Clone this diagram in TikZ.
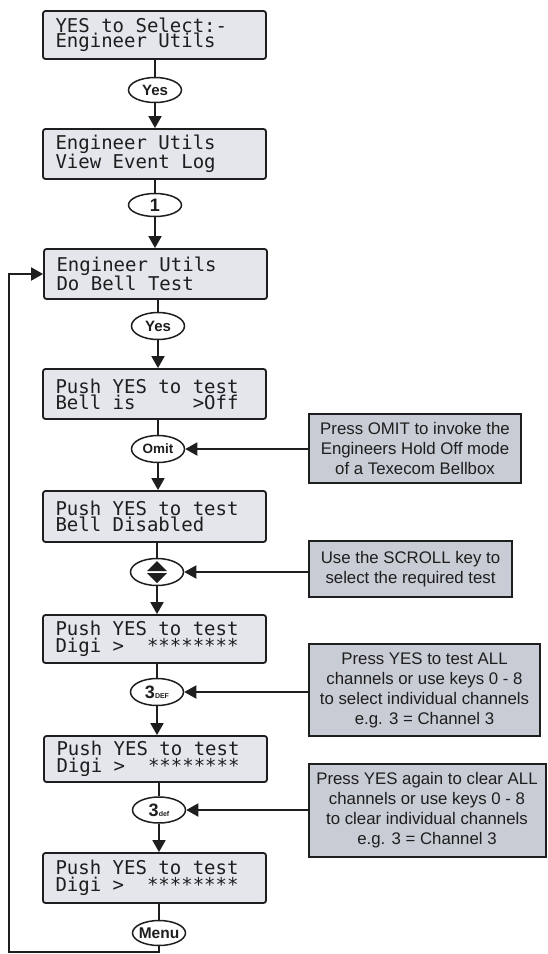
\documentclass[tikz,border=0pt]{standalone}
\usepackage{fontspec}
\setmainfont{Liberation Sans}
\newfontfamily\lcdfont{DejaVu Sans Mono}
\newcommand\lcdset[1]{\lcdfont\fontsize{19}{#1}\selectfont}
\usetikzlibrary{arrows.meta,shapes.geometric}
\definecolor{lcdfill}{RGB}{228,230,236}
\definecolor{notefill}{RGB}{200,204,212}
\definecolor{ink}{RGB}{30,30,30}
\tikzset{
  lcd/.style={draw=ink, line width=1.8pt, rounded corners=2.5pt, fill=lcdfill,
    minimum width=223pt, minimum height=50pt, text width=198pt, inner xsep=12pt,
    inner ysep=0pt, align=left, font=\lcdset{17}, text=ink,
    execute at begin node={\spaceskip=11.44pt\xspaceskip=11.44pt\relax}},
  lcdtight/.style={lcd, font=\lcdset{16}},
  key/.style={ellipse, draw=ink, line width=1.5pt, fill=white, inner sep=0pt,
    minimum width=53pt, minimum height=25pt},
  keytxt/.style={font=\bfseries\fontsize{15}{15}\selectfont, text=ink, inner sep=0pt},
  note/.style={draw=ink, line width=2pt, fill=notefill, inner sep=0pt, align=center,
    font=\fontsize{16.8}{20}\selectfont, text=ink},
  conn/.style={draw=ink, line width=1.8pt},
  arr/.style={conn, -{Triangle[length=12pt,width=13pt]}},
}
\begin{document}
\begin{tikzpicture}[x=1pt,y=-1pt]
\useasboundingbox (0,0) rectangle (548,954);
% LCD boxes
\node[lcdtight, minimum height=48pt, font=\lcdset{15}] (b1) at (154.5,35) {YES to Select:-\\Engineer Utils};
\node[lcd] (b2) at (154.5,154) {Engineer Utils\\View Event Log};
\node[lcd] (b3) at (155.5,274) {Engineer Utils\\Do Bell Test};
\node[lcdtight] (b4) at (154.5,394) {Push YES to test\\Bell is\ \ \ \ \ >Off};
\node[lcdtight, minimum height=51pt] (b5) at (154.5,516.5) {Push YES to test\\Bell Disabled};
\node[lcd, minimum height=48pt] (b6) at (154.5,639) {Push YES to test\\Digi >\ \ ********};
\node[lcd, minimum height=46pt] (b7) at (155.5,759) {Push YES to test\\Digi >\ \ ********};
\node[lcd] (b8) at (154.5,878) {Push YES to test\\Digi >\ \ ********};
% keys
\node[key, label={[keytxt]center:Yes}] (o1) at (155,90) {};
\node[key, minimum height=23pt, label={[keytxt, font=\bfseries\fontsize{18}{18}\selectfont]center:1}] (o2) at (155,205) {};
\node[key, minimum height=27pt, label={[keytxt]center:Yes}] (o3) at (158,326) {};
\node[key, minimum height=27pt, label={[keytxt, font=\bfseries\fontsize{13.5}{13.5}\selectfont]center:Omit}] (o4) at (158,449) {};
\node[key, minimum height=27pt] (o5) at (157,572) {};
\node[key, minimum height=27pt, label={[keytxt, font=\bfseries\fontsize{18}{18}\selectfont]center:3{\fontsize{7}{7}\selectfont DEF}}] (o6) at (157,692) {};
\node[key, minimum height=26pt, label={[keytxt, font=\bfseries\fontsize{18}{18}\selectfont]center:3{\fontsize{7}{7}\selectfont def}}] (o7) at (159,810) {};
\node[key, label={[keytxt, font=\bfseries\fontsize{15.5}{15.5}\selectfont]center:Menu}] (o8) at (159,933) {};
% scroll icon
\begin{scope}[shift={(o5.center)}]
  \fill[ink] (0,-11) -- (-10,-1) -- (10,-1) -- cycle;
  \fill[ink] (-10,1) -- (10,1) -- (0,11) -- cycle;
\end{scope}
% notes
\node[note, minimum width=212pt, minimum height=69pt] (c1) at (415,448.5) {Press OMIT to invoke the\\Engineers Hold Off mode\\of a Texecom Bellbox};
\node[note, minimum width=203pt, minimum height=56pt] (c2) at (410.5,569) {Use the SCROLL key to\\select the required test};
\node[note, minimum width=231pt, minimum height=92pt] (c3) at (424.5,690) {Press YES to test ALL\\channels or use keys 0 - 8\\to select individual channels\\e.g. 3 = Channel 3};
\node[note, minimum width=237pt, minimum height=93pt] (c4) at (427,810.5) {Press YES again to clear ALL\\channels or use keys 0 - 8\\to clear individual channels\\e.g. 3 = Channel 3};
% main flow
\draw[conn] (b1.south -| o1) -- (o1.north);
\draw[arr] (o1.south) -- (o1.south |- b2.north);
\draw[conn] (b2.south -| o2) -- (o2.north);
\draw[arr] (o2.south) -- (o2.south |- b3.north);
\draw[conn] (b3.south -| o3) -- (o3.north);
\draw[arr] (o3.south) -- (o3.south |- b4.north);
\draw[conn] (b4.south -| o4) -- (o4.north);
\draw[arr] (o4.south) -- (o4.south |- b5.north);
\draw[conn] (b5.south -| o5) -- (o5.north);
\draw[arr] (o5.south) -- (o5.south |- b6.north);
\draw[conn] (b6.south -| o6) -- (o6.north);
\draw[arr] (o6.south) -- (o6.south |- b7.north);
\draw[conn] (b7.south -| o7) -- (o7.north);
\draw[arr] (o7.south) -- (o7.south |- b8.north);
\draw[conn] (b8.south -| o8) -- (o8.north);
% callout arrows
\draw[arr] (c1.west |- o4.east) -- (o4.east);
\draw[arr] (c2.west |- o5.east) -- (o5.east);
\draw[arr] (c3.west |- o6.east) -- (o6.east);
\draw[arr] (c4.west |- o7.east) -- (o7.east);
% loop back
\coordinate (lc) at (9,952);
\draw[arr] (o8.south) -- (o8.south |- lc) -- (lc) -- (lc |- b3.west) -- (b3.west);
\end{tikzpicture}
\end{document}
